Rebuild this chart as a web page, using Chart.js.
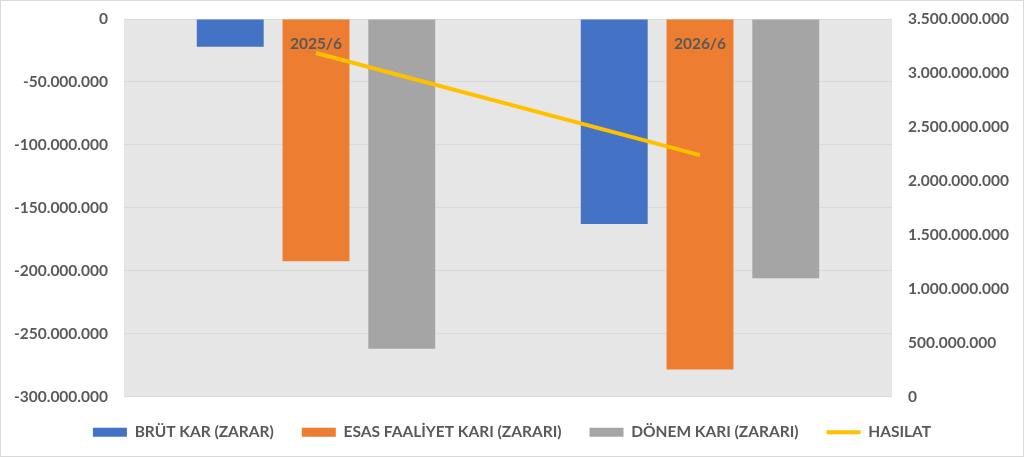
<!DOCTYPE html>
<html>
<head>
<meta charset="utf-8">
<script src="https://cdn.jsdelivr.net/npm/chart.js@4/dist/chart.umd.min.js"></script>
<style>
  html, body { margin: 0; padding: 0; background: #fff; }
  #wrap { width: 1022px; height: 455px; border: 1px solid #d9d9d9; position: relative; }
</style>
</head>
<body>
<div id="wrap"><canvas id="grafik"></canvas></div>
<script>
const donemler = ['2025/6', '2026/6'];
const brutKar = [-22000000, -163000000];
const esasFaaliyet = [-192500000, -278500000];
const donemKari = [-262000000, -206000000];
const hasilat = [3185000000, 2238000000];

const gri = '#595959';

function noktali(v) {
    const s = Math.abs(Math.round(v)).toString().replace(/\B(?=(\d{3})+(?!\d))/g, '.');
    return (v < 0 ? '-' : '') + s;
}

// plot alanı arka planı
const arkaPlan = {
    id: 'arkaPlan',
    beforeDraw(chart) {
        const { ctx, chartArea: a } = chart;
        ctx.save();
        ctx.fillStyle = '#e7e6e6';
        ctx.fillRect(a.left, a.top, a.right - a.left, a.bottom - a.top);
        ctx.restore();
    }
};

// kategori etiketleri, barların üstünde
const kategoriEtiket = {
    id: 'kategoriEtiket',
    afterDatasetsDraw(chart) {
        const { ctx, chartArea: a } = chart;
        const x = chart.scales.x;
        ctx.save();
        ctx.font = 'bold 15.5px Lato';
        ctx.fillStyle = gri;
        ctx.textAlign = 'center';
        ctx.textBaseline = 'middle';
        donemler.forEach((d, i) => {
            ctx.fillText(d, x.getPixelForValue(i), a.top + 25);
        });
        ctx.restore();
    }
};

function eksenSigdir(genislik) {
    return s => {
        s.width = genislik;
        s.paddingTop = 0;
        s.paddingBottom = 0;
    };
}

const grafik = document.getElementById('grafik');

new Chart(grafik, {
    data: {
        labels: donemler,
        datasets: [
            { type: 'bar', label: 'BRÜT KAR (ZARAR)', data: brutKar, backgroundColor: '#4472c4', yAxisID: 'y', order: 2 },
            { type: 'bar', label: 'ESAS FAALİYET KARI (ZARARI)', data: esasFaaliyet, backgroundColor: '#ed7d31', yAxisID: 'y', order: 2 },
            { type: 'bar', label: 'DÖNEM KARI (ZARARI)', data: donemKari, backgroundColor: '#a5a5a5', yAxisID: 'y', order: 2 },
            { type: 'line', label: 'HASILAT', data: hasilat, borderColor: '#ffc000', backgroundColor: '#ffc000',
              borderWidth: 4, pointRadius: 0, pointHoverRadius: 0, yAxisID: 'y1', order: 1, tension: 0 }
        ]
    },
    options: {
        responsive: true,
        maintainAspectRatio: false,
        animation: false,
        layout: { padding: { top: 18, bottom: 6 } },
        datasets: {
            bar: { barPercentage: 0.78, categoryPercentage: 0.67 }
        },
        scales: {
            x: {
                display: false,
                offset: true
            },
            y: {
                position: 'left',
                min: -300000000,
                max: 0,
                ticks: {
                    stepSize: 50000000,
                    color: gri,
                    font: { family: 'Lato', size: 15.5, weight: 'bold' },
                    padding: 16,
                    callback: v => noktali(v)
                },
                grid: { color: '#d9d9d9', drawTicks: false },
                border: { display: false },
                afterFit: eksenSigdir(123)
            },
            y1: {
                position: 'right',
                min: 0,
                max: 3500000000,
                ticks: {
                    stepSize: 500000000,
                    color: gri,
                    font: { family: 'Lato', size: 15.5, weight: 'bold' },
                    padding: 16,
                    callback: v => noktali(v)
                },
                grid: { display: false, drawTicks: false },
                border: { display: false },
                afterFit: eksenSigdir(131)
            }
        },
        plugins: {
            tooltip: { enabled: false },
            legend: {
                position: 'bottom',
                labels: {
                    usePointStyle: true,
                    pointStyleWidth: 34,
                    boxWidth: 34,
                    boxHeight: 9,
                    padding: 28,
                    color: gri,
                    font: { family: 'Lato', size: 15.5, weight: 'bold' },
                    generateLabels(chart) {
                        return chart.data.datasets.map((d, i) => ({
                            text: d.label,
                            fillStyle: d.backgroundColor,
                            strokeStyle: d.type === 'line' ? d.borderColor : d.backgroundColor,
                            lineWidth: d.type === 'line' ? 4 : 0,
                            pointStyle: d.type === 'line' ? 'line' : 'rect',
                            fontColor: gri,
                            datasetIndex: i
                        }));
                    }
                }
            }
        }
    },
    plugins: [arkaPlan, kategoriEtiket]
});
</script>
</body>
</html>
